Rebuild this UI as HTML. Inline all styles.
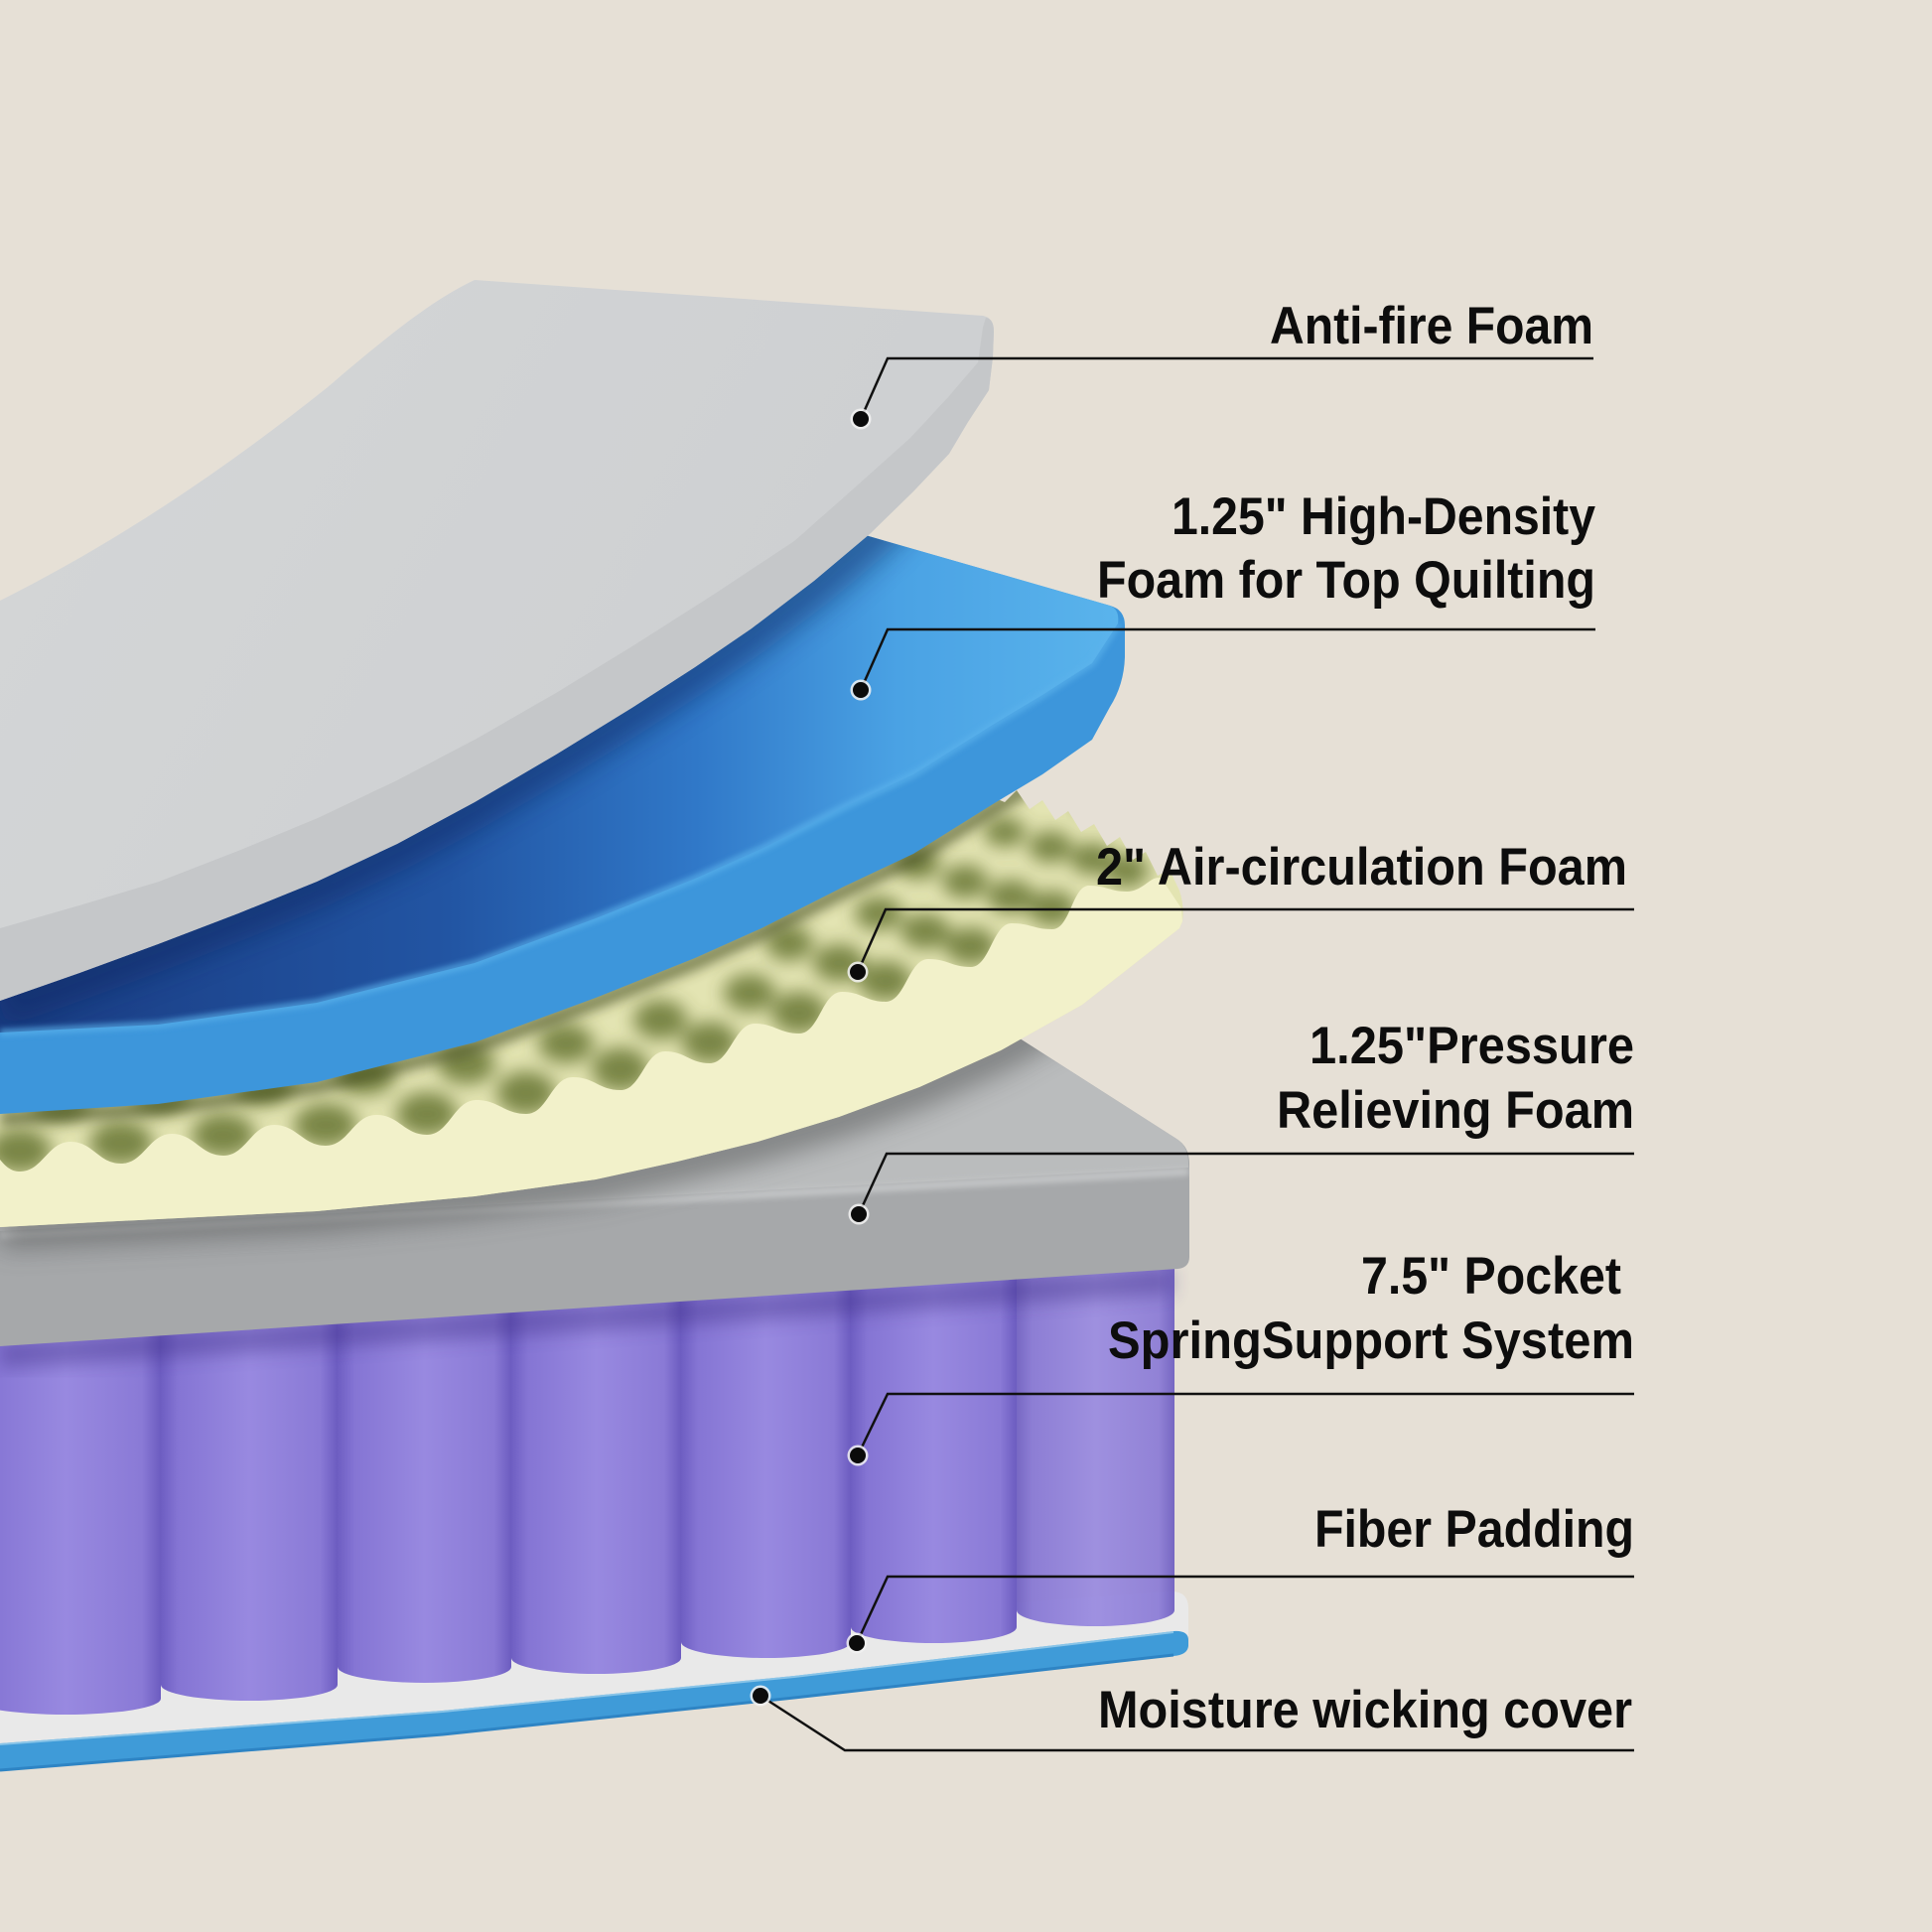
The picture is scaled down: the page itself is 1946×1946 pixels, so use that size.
<!DOCTYPE html>
<html><head><meta charset="utf-8"><style>html,body{margin:0;padding:0;background:#e6e0d6;}svg{display:block}</style></head>
<body>
<svg width="1946" height="1946" viewBox="0 0 1946 1946" xmlns="http://www.w3.org/2000/svg">
<defs>
  <filter id="b3" x="-20%" y="-20%" width="140%" height="140%"><feGaussianBlur stdDeviation="3"/></filter>
  <filter id="b6" x="-20%" y="-20%" width="140%" height="140%"><feGaussianBlur stdDeviation="6"/></filter>
  <filter id="b9" x="-30%" y="-30%" width="160%" height="160%"><feGaussianBlur stdDeviation="9"/></filter>
  <filter id="b14" x="-20%" y="-20%" width="140%" height="140%"><feGaussianBlur stdDeviation="14"/></filter>
  <linearGradient id="cyl" x1="0" y1="0" x2="1" y2="0">
    <stop offset="0" stop-color="#6e5ec2"/><stop offset="0.1" stop-color="#8575d4"/>
    <stop offset="0.5" stop-color="#9889e0"/><stop offset="0.9" stop-color="#8a7ad6"/>
    <stop offset="1" stop-color="#6c5cc0"/>
  </linearGradient>
  <linearGradient id="blueTop" gradientUnits="userSpaceOnUse" x1="0" y1="0" x2="1130" y2="0">
    <stop offset="0" stop-color="#1a3c82"/><stop offset="0.4" stop-color="#2255a3"/>
    <stop offset="0.62" stop-color="#3078c8"/><stop offset="0.8" stop-color="#4aa2e4"/>
    <stop offset="1" stop-color="#5ab4ec"/>
  </linearGradient>
  <linearGradient id="greyTop" gradientUnits="userSpaceOnUse" x1="0" y1="300" x2="900" y2="800">
    <stop offset="0" stop-color="#d4d6d7"/><stop offset="1" stop-color="#cdcfd1"/>
  </linearGradient>
  <clipPath id="cBlueTop"><path d="M0,830 L700,505 L840,530 L1118,610 Q1128,614 1126,628 L1100,668 L1050,700 L1000,730 L920,780 L850,813 L767,855 L700,885 L600,925 L478,970 L319,1010 L159,1032 L0,1040 Z"/></clipPath>
  <clipPath id="cYellow"><path d="M0,1100 L600,980 L985,797 L1012,808 L1024,796 L1037,815 L1050,806 L1063,826 L1076,817 L1089,838 L1102,830 L1115,852 L1128,843 L1141,866 L1154,858 L1166,882 L1178,876 L1188,897 Q1193,912 1191,928 L1188,935 L1150,965 L1090,1012 L1008,1058 L926,1095 L845,1125 L763,1150 L682,1170 L600,1188 L478,1205 L319,1220 L159,1228 L0,1236 Z"/></clipPath>
  <clipPath id="cGreyBlock"><path d="M0,1200 L1010,1035 L1185,1147 Q1198,1155 1198,1172 L1198,1266 Q1198,1277 1186,1278 L0,1356 Z"/></clipPath>
</defs>

<rect x="0" y="0" width="1946" height="1946" fill="#e6e0d6"/>

<!-- Fiber padding + moisture cover -->
<path d="M0,1690 L1178,1603 Q1197,1602 1197,1620 L1197,1648 L800,1690 L446,1725 L0,1758 Z" fill="#e9e9e9"/>
<path d="M0,1756 L446,1723 L800,1688 L1182,1643 Q1197,1642 1197,1652 L1197,1658 Q1196,1667 1182,1668 L800,1711 L446,1748 L0,1784 Z" fill="#3f9bd8"/>
<path d="M0,1783 L446,1747 L800,1710 L1182,1667" fill="none" stroke="#2e84c4" stroke-width="3"/>
<path d="M0,1757 L446,1724 L800,1689 L1182,1644" fill="none" stroke="#a8d6f0" stroke-width="2" opacity="0.7"/>

<!-- springs -->
<g fill="url(#cyl)">
  <path d="M-30,1320 L-30,1711 A96,16 0 0 0 162,1711 L162,1320 Z"/>
  <path d="M162,1315 L162,1697 A89,16 0 0 0 340,1697 L340,1315 Z"/>
  <path d="M340,1305 L340,1679 A87.5,16 0 0 0 515,1679 L515,1305 Z"/>
  <path d="M515,1295 L515,1670 A85.5,16 0 0 0 686,1670 L686,1295 Z"/>
  <path d="M686,1285 L686,1654 A85.5,16 0 0 0 857,1654 L857,1285 Z"/>
  <path d="M857,1275 L857,1639 A83.5,16 0 0 0 1024,1639 L1024,1275 Z"/>
  <path d="M1024,1262 L1024,1622 A79.5,16 0 0 0 1183,1622 L1183,1262 Z" opacity="0.92"/>
</g>
<path d="M0,1365 L1180,1290" stroke="#3a2c82" stroke-width="26" opacity="0.4" filter="url(#b9)"/>

<!-- grey pressure relieving block -->
<path d="M0,1200 L1010,1035 L1185,1147 Q1198,1155 1198,1172 L1198,1266 Q1198,1277 1186,1278 L0,1356 Z" fill="#a6a8aa"/>
<path d="M0,1200 L1010,1035 L1185,1147 Q1198,1155 1197,1176 L0,1240 Z" fill="#babcbd"/>
<g clip-path="url(#cGreyBlock)">
  <path d="M0,1244 L1197,1180" stroke="#c3c5c6" stroke-width="8" filter="url(#b3)"/>
  <path d="M1188,938 L1150,968 L1090,1015 L1008,1061 L926,1098 L845,1128 L763,1153 L682,1173 L600,1191 L478,1208 L319,1223 L159,1231 L0,1239" fill="none" stroke="#4a4b4b" stroke-width="34" opacity="0.55" filter="url(#b14)"/>
</g>

<!-- yellow egg-crate foam -->
<path d="M0,1100 L600,980 L985,797 L1012,808 L1024,796 L1037,815 L1050,806 L1063,826 L1076,817 L1089,838 L1102,830 L1115,852 L1128,843 L1141,866 L1154,858 L1166,882 L1178,876 L1188,897 Q1193,912 1191,928 L1188,935 L1150,965 L1090,1012 L1008,1058 L926,1095 L845,1125 L763,1150 L682,1170 L600,1188 L478,1205 L319,1220 L159,1228 L0,1236 Z" fill="#e3e4b2"/>
<g clip-path="url(#cYellow)">
  <g fill="#6e7c3a" opacity="0.9" filter="url(#b9)">
    <ellipse cx="20" cy="1159" rx="32" ry="22"/><ellipse cx="122" cy="1151" rx="32" ry="22"/>
    <ellipse cx="225" cy="1143" rx="32" ry="22"/><ellipse cx="328" cy="1133" rx="32" ry="22"/>
    <ellipse cx="430" cy="1122" rx="31" ry="22"/><ellipse cx="530" cy="1101" rx="30" ry="22"/>
    <ellipse cx="625" cy="1077" rx="29" ry="22"/><ellipse cx="715" cy="1050" rx="28" ry="21"/>
    <ellipse cx="805" cy="1020" rx="28" ry="21"/><ellipse cx="892" cy="988" rx="27" ry="20"/>
    <ellipse cx="978" cy="953" rx="26" ry="19"/><ellipse cx="1060" cy="915" rx="24" ry="18"/>
    <ellipse cx="1135" cy="877" rx="22" ry="17"/>
    <ellipse cx="60" cy="1109" rx="30" ry="20"/><ellipse cx="162" cy="1101" rx="30" ry="20"/>
    <ellipse cx="265" cy="1093" rx="30" ry="20"/><ellipse cx="368" cy="1083" rx="30" ry="20"/>
    <ellipse cx="470" cy="1072" rx="29" ry="20"/><ellipse cx="570" cy="1051" rx="28" ry="20"/>
    <ellipse cx="665" cy="1027" rx="27" ry="20"/><ellipse cx="755" cy="1000" rx="26" ry="19"/>
    <ellipse cx="845" cy="970" rx="26" ry="19"/><ellipse cx="932" cy="938" rx="25" ry="18"/>
    <ellipse cx="1018" cy="903" rx="24" ry="17"/><ellipse cx="1100" cy="865" rx="22" ry="16"/>
    <ellipse cx="795" cy="950" rx="24" ry="18"/><ellipse cx="885" cy="920" rx="24" ry="17"/>
    <ellipse cx="972" cy="888" rx="23" ry="17"/><ellipse cx="1058" cy="853" rx="22" ry="16"/>
    <ellipse cx="1140" cy="815" rx="20" ry="15"/>
    <ellipse cx="925" cy="870" rx="22" ry="16"/><ellipse cx="1012" cy="838" rx="21" ry="15"/>
    <ellipse cx="1098" cy="803" rx="20" ry="14"/>
  </g>
</g>
<path d="M0,1168 C8,1178 14,1180 20,1180 C43,1180 48,1150 71,1150 C94,1150 99,1172 122,1172 C145,1172 150,1142 173,1142 C196,1142 202,1164 225,1164 C248,1164 253,1133 276,1133 C299,1133 305,1154 328,1154 C351,1154 356,1123 379,1123 C402,1123 407,1143 430,1143 C453,1143 457,1108 480,1108 C502,1108 508,1122 530,1122 C552,1122 555,1085 577,1085 C599,1085 603,1098 625,1098 C646,1098 649,1059 670,1059 C690,1059 695,1071 715,1071 C735,1071 740,1031 760,1031 C780,1031 785,1041 805,1041 C825,1041 828,999 848,999 C868,999 872,1009 892,1009 C912,1009 915,966 935,966 C955,966 958,974 978,974 C997,974 1000,930 1019,930 C1038,930 1041,936 1060,936 C1078,936 1080,892 1097,892 C1114,892 1118,898 1135,898 C1152,898 1160,880 1170,885 L1190,915 L1191,928 L1188,935 L1150,965 L1090,1012 L1008,1058 L926,1095 L845,1125 L763,1150 L682,1170 L600,1188 L478,1205 L319,1220 L159,1228 L0,1236 Z" fill="#f2f1ca"/>
<g clip-path="url(#cYellow)">
  <path d="M0,1126 L159,1116 L319,1094 L478,1054 L600,1009 L700,969 L767,939 L850,897 L920,864 L1000,814 L1050,784 L1100,749" fill="none" stroke="#3f4a1c" stroke-width="16" opacity="0.6" filter="url(#b6)"/>
</g>

<!-- blue high-density foam -->
<path d="M0,830 L700,505 L840,530 L1118,610 Q1133,614 1133,630 L1133,662 Q1132,690 1118,712 L1100,745 L1050,780 L1000,810 L920,860 L850,893 L767,935 L700,965 L600,1005 L478,1050 L319,1090 L159,1112 L0,1122 Z" fill="#3d96db"/>
<path d="M0,830 L700,505 L840,530 L1118,610 Q1128,614 1126,628 L1100,668 L1050,700 L1000,730 L920,780 L850,813 L767,855 L700,885 L600,925 L478,970 L319,1010 L159,1032 L0,1040 Z" fill="url(#blueTop)"/>
<g clip-path="url(#cBlueTop)">
  <path d="M0,1012 L80,984 L159,955 L240,924 L319,892 L400,854 L478,812 L560,764 L638,716 L700,676 L757,637 L820,589 L877,541 L920,499" fill="none" stroke="#0e2560" stroke-width="46" opacity="0.5" filter="url(#b14)"/>
</g>
<path d="M1126,628 L1100,668 L1050,700 L1000,730 L920,780 L850,813 L767,855 L700,885 L600,925 L478,970 L319,1010 L159,1032 L0,1040" fill="none" stroke="#5cb3ec" stroke-width="7" opacity="0.7" filter="url(#b3)"/>

<!-- grey anti-fire foam -->
<path d="M478,282 L990,318 Q1001,320 1001,334 L1000,360 L996,393 L975,425 L956,457 L920,495 L877,537 L820,585 L757,633 L700,672 L638,712 L560,760 L478,808 L400,850 L319,888 L240,920 L159,951 L80,980 L0,1008 L0,605 C120,545 230,470 330,390 C400,330 440,300 478,282 Z" fill="url(#greyTop)"/>
<path d="M993,320 Q1001,321 1001,334 L1000,360 L996,393 L975,425 L956,457 L920,495 L877,537 L820,585 L757,633 L700,672 L638,712 L560,760 L478,808 L400,850 L319,888 L240,920 L159,951 L80,980 L0,1008 L0,935 L80,912 L160,888 L240,857 L320,824 L400,786 L480,744 L560,698 L640,649 L720,598 L800,545 L860,492 L917,441 L955,400 L985,365 L990,330 Z" fill="#c5c7c9"/>

<!-- leader lines -->
<g fill="none" stroke="#111" stroke-width="2.5">
  <path d="M1605,361 H894 L867,422"/>
  <path d="M1607,634 H894 L867,695"/>
  <path d="M1646,916 H892 L864,979"/>
  <path d="M1646,1162 H893 L865,1223"/>
  <path d="M1646,1404 H894 L864,1466"/>
  <path d="M1646,1588 H894 L863,1655"/>
  <path d="M1646,1763 H851 L766,1708"/>
</g>
<g>
  <g fill="#f2f2f2" opacity="0.85">
    <circle cx="867" cy="422" r="10.5"/><circle cx="867" cy="695" r="10.5"/>
    <circle cx="864" cy="979" r="10.5"/><circle cx="865" cy="1223" r="10.5"/>
    <circle cx="864" cy="1466" r="10.5"/><circle cx="863" cy="1655" r="10.5"/>
    <circle cx="766" cy="1708" r="10.5"/>
  </g>
  <g fill="#0b0b0b">
    <circle cx="867" cy="422" r="8"/><circle cx="867" cy="695" r="8"/>
    <circle cx="864" cy="979" r="8"/><circle cx="865" cy="1223" r="8"/>
    <circle cx="864" cy="1466" r="8"/><circle cx="863" cy="1655" r="8"/>
    <circle cx="766" cy="1708" r="8"/>
  </g>
</g>

<!-- labels -->
<g font-family="'Liberation Sans Narrow','Liberation Sans',Arial,sans-serif" font-weight="bold" font-size="53" fill="#0d0d0d">
  <text x="1279" y="346" textLength="326" lengthAdjust="spacingAndGlyphs">Anti-fire Foam</text>
  <text x="1180" y="538" textLength="427" lengthAdjust="spacingAndGlyphs">1.25" High-Density</text>
  <text x="1105" y="602" textLength="502" lengthAdjust="spacingAndGlyphs">Foam for Top Quilting</text>
  <text x="1104" y="891" textLength="535" lengthAdjust="spacingAndGlyphs">2" Air-circulation Foam</text>
  <text x="1319" y="1071" textLength="327" lengthAdjust="spacingAndGlyphs">1.25"Pressure</text>
  <text x="1286" y="1136" textLength="360" lengthAdjust="spacingAndGlyphs">Relieving Foam</text>
  <text x="1371" y="1303" textLength="262" lengthAdjust="spacingAndGlyphs">7.5" Pocket</text>
  <text x="1116" y="1368" textLength="530" lengthAdjust="spacingAndGlyphs">SpringSupport System</text>
  <text x="1324" y="1558" textLength="322" lengthAdjust="spacingAndGlyphs">Fiber Padding</text>
  <text x="1106" y="1740" textLength="538" lengthAdjust="spacingAndGlyphs">Moisture wicking cover</text>
</g>
</svg>
</body></html>
